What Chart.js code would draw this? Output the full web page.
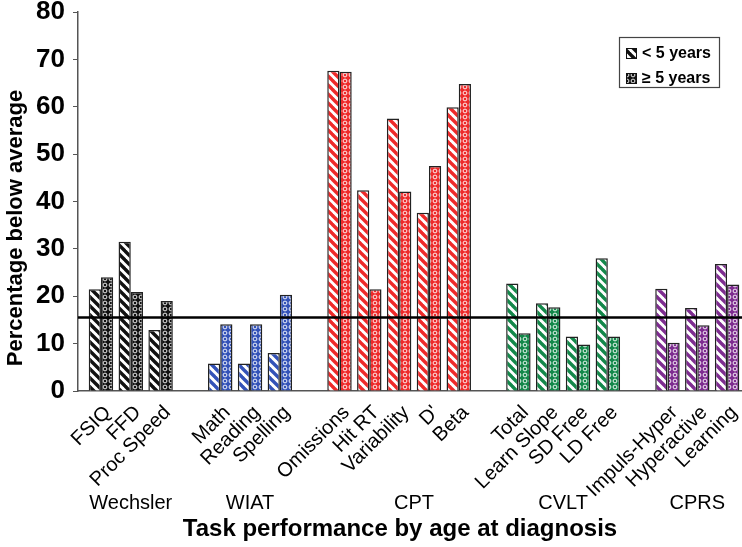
<!DOCTYPE html>
<html>
<head>
<meta charset="utf-8">
<script src="https://cdn.jsdelivr.net/npm/chart.js@4.4.1/dist/chart.umd.min.js"></script>
<style>
  html, body { margin: 0; padding: 0; background: #fff; }
  #wrap { width: 742px; height: 547px; position: relative; }
</style>
</head>
<body>
<div id="wrap"><canvas id="chart"></canvas></div>
<script>
// --- data ---
const groups = ["Wechsler", "WIAT", "CPT", "CVLT", "CPRS"];
const groupColors = ["#111111", "#3352b8", "#ee2a2a", "#13884a", "#7e2c90"];
const groupTasks = [
    ["FSIQ", "FFD", "Proc Speed"],
    ["Math", "Reading", "Spelling"],
    ["Omissions", "Hit RT", "Variability", "D'", "Beta"],
    ["Total", "Learn Slope", "SD Free", "LD Free"],
    ["Impuls-Hyper", "Hyperactive", "Learning"],
];
const under5 = [21.5, 31.5, 12.9, 5.8, 5.8, 8.0, 67.6, 42.4, 57.5, 37.6, 59.9, 22.7, 18.5, 11.5, 28.0, 21.6, 17.5, 26.8];
const over5 = [24.0, 20.9, 19.0, 14.1, 14.1, 20.3, 67.4, 21.5, 42.1, 47.5, 64.8, 12.2, 17.7, 9.8, 11.5, 10.2, 13.9, 22.5];
const seriesNames = ["< 5 years", "\u2265 5 years"];
const refLine = 15.5;
const yTicks = [0, 10, 20, 30, 40, 50, 60, 70, 80];

// --- layout helpers: slot index per task, one empty slot between groups ---
const taskLabels = [];
const taskSlots = [];
const taskColors = [];
const groupCenters = [];
let slot = 0;
groupTasks.forEach((tasks, g) => {
    const first = slot;
    tasks.forEach((t) => {
        taskLabels.push(t);
        taskSlots.push(slot);
        taskColors.push(groupColors[g]);
        slot++;
    });
    groupCenters.push((first + slot - 1) / 2);
    slot++;
});
groupCenters[2] += 0.5; // CPT label sits a bit right of centre

// --- patterns ---
function stripePattern(color) {
    const s = 9;
    const c = document.createElement("canvas");
    c.width = s; c.height = s;
    const g = c.getContext("2d");
    g.fillStyle = "#fff";
    g.fillRect(0, 0, s, s);
    g.strokeStyle = color;
    g.lineWidth = 3.4;
    for (let k = -1; k <= 1; k++) {
        g.beginPath();
        g.moveTo(k * s - 1, -1);
        g.lineTo(k * s + s + 1, s + 1);
        g.stroke();
    }
    return g.createPattern(c, "repeat");
}
function dotPattern(color) {
    const s = 6;
    const c = document.createElement("canvas");
    c.width = s; c.height = s;
    const g = c.getContext("2d");
    g.fillStyle = color;
    g.fillRect(0, 0, s, s);
    g.strokeStyle = "#fff";
    g.lineWidth = 0.9;
    g.beginPath();
    g.arc(3, 3, 1.9, 0, Math.PI * 2);
    g.stroke();
    return g.createPattern(c, "repeat");
}

const stripeFills = taskColors.map(stripePattern);
const dotFills = taskColors.map(dotPattern);

// --- plugin: reference line, group labels, titles, legend box ---
const decorations = {
    id: "decorations",
    afterDatasetsDraw(chart) {
        const { ctx, chartArea, scales } = chart;
        const y = scales.y.getPixelForValue(refLine);
        ctx.save();
        ctx.strokeStyle = "#000";
        ctx.lineWidth = 2.5;
        ctx.beginPath();
        ctx.moveTo(chartArea.left, y);
        ctx.lineTo(chartArea.right, y);
        ctx.stroke();
        ctx.restore();
    },
    afterDraw(chart) {
        const { ctx, scales } = chart;
        ctx.save();
        ctx.fillStyle = "#000";
        ctx.textAlign = "center";
        ctx.textBaseline = "middle";
        ctx.font = "20px 'Liberation Sans', Arial, sans-serif";
        groups.forEach((name, i) => {
            ctx.fillText(name, scales.x.getPixelForValue(groupCenters[i]), 503);
        });
        ctx.font = "bold 24px 'Liberation Sans', Arial, sans-serif";
        ctx.fillText("Task performance by age at diagnosis", 400, 529);

        ctx.translate(16, 228);
        ctx.rotate(-Math.PI / 2);
        ctx.font = "bold 22px 'Liberation Sans', Arial, sans-serif";
        ctx.fillText("Percentage below average", 0, 0);
        ctx.restore();

        // legend
        ctx.save();
        ctx.strokeStyle = "#444";
        ctx.lineWidth = 1.2;
        ctx.strokeRect(619.5, 37.5, 100, 50);
        const icons = [stripePattern("#111"), dotPattern("#111")];
        ctx.font = "bold 16px 'Liberation Sans', Arial, sans-serif";
        ctx.textAlign = "left";
        ctx.textBaseline = "middle";
        seriesNames.forEach((name, i) => {
            const cy = 53 + i * 25;
            ctx.fillStyle = icons[i];
            ctx.fillRect(626, cy - 5, 11, 11);
            ctx.strokeStyle = "#111";
            ctx.lineWidth = 1;
            ctx.strokeRect(626.5, cy - 4.5, 10, 10);
            ctx.fillStyle = "#000";
            ctx.fillText(name, 642, cy + 1);
        });
        ctx.restore();
    },
};

new Chart(document.getElementById("chart"), {
    type: "bar",
    data: {
        datasets: [
            {
                label: seriesNames[0],
                data: under5.map((v, i) => ({ x: taskSlots[i], y: v })),
                backgroundColor: stripeFills,
                borderColor: "#222",
                borderWidth: 1.5,
                categoryPercentage: 0.82,
                barPercentage: 1.0,
            },
            {
                label: seriesNames[1],
                data: over5.map((v, i) => ({ x: taskSlots[i], y: v })),
                backgroundColor: dotFills,
                borderColor: "#222",
                borderWidth: 1.5,
                categoryPercentage: 0.82,
                barPercentage: 1.0,
            },
        ],
    },
    options: {
        responsive: true,
        maintainAspectRatio: false,
        animation: false,
        layout: { padding: { top: 12, right: 0, left: 0, bottom: 0 } },
        scales: {
            x: {
                type: "linear",
                offset: false,
                min: -0.77,
                max: 21.5,
                afterBuildTicks: (scale) => {
                    scale.ticks = taskSlots.map((v) => ({ value: v }));
                },
                afterFit: (scale) => {
                    scale.height = 156;
                    scale.paddingLeft = 0;
                    scale.paddingRight = 0;
                },
                grid: { display: false, offset: false },
                border: { display: true, color: "#555", width: 1.5 },
                ticks: {
                    autoSkip: false,
                    maxRotation: 45,
                    minRotation: 45,
                    padding: 2,
                    labelOffset: 7,
                    color: "#000",
                    font: { family: "'Liberation Sans', Arial, sans-serif", size: 20 },
                    callback: (value) => taskLabels[taskSlots.indexOf(value)] ?? "",
                },
            },
            y: {
                min: 0,
                max: 80,
                afterBuildTicks: (scale) => {
                    scale.ticks = yTicks.map((v) => ({ value: v }));
                },
                afterFit: (scale) => {
                    scale.width = 78;
                    scale.paddingTop = 0;
                    scale.paddingBottom = 0;
                },
                grid: {
                    display: true,
                    drawOnChartArea: false,
                    drawTicks: true,
                    tickLength: 5,
                    color: "#555",
                },
                border: { display: true, color: "#555", width: 1.5 },
                ticks: {
                    padding: 8,
                    color: "#000",
                    font: { family: "'Liberation Sans', Arial, sans-serif", size: 26, weight: "bold" },
                },
            },
        },
        plugins: {
            legend: { display: false },
            tooltip: { enabled: false },
        },
    },
    plugins: [decorations],
});
</script>
</body>
</html>
